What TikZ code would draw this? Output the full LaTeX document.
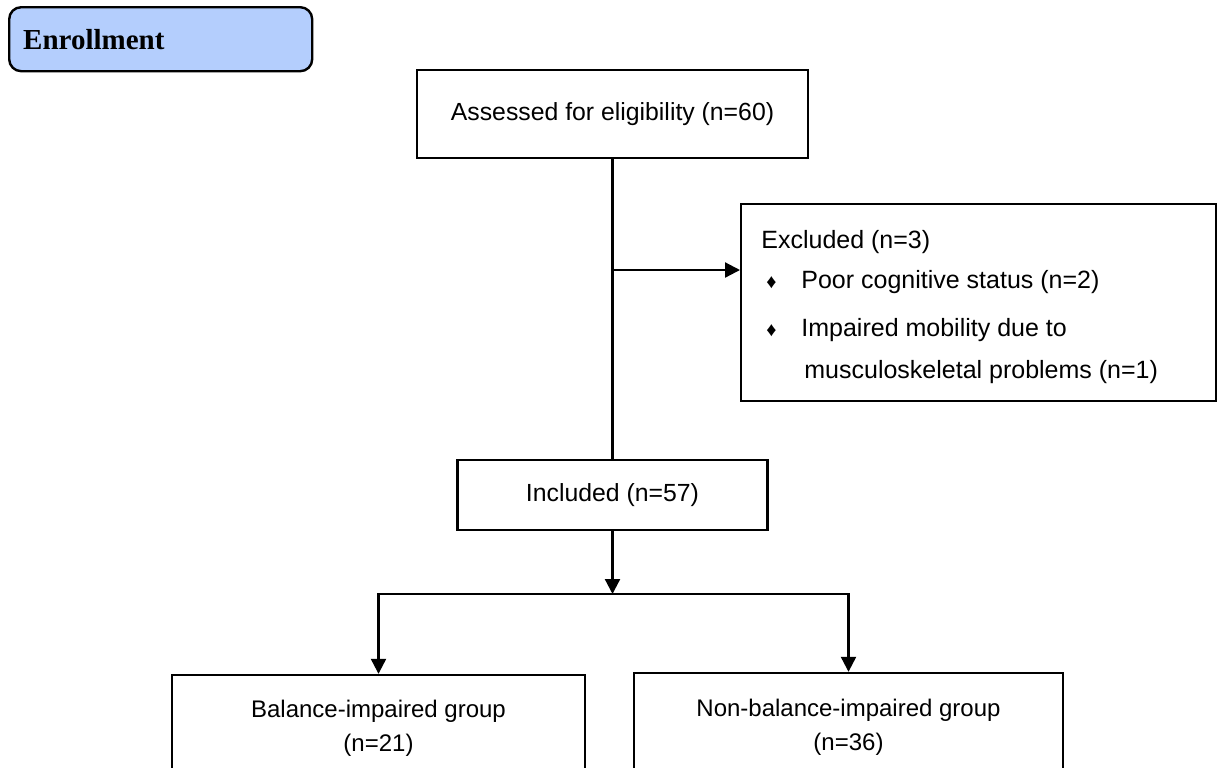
\documentclass[tikz,border=0pt]{standalone}
\usepackage{fontspec}
\setmainfont{Liberation Sans}
\newfontfamily\enrolfont{Liberation Serif}
\definecolor{EnrolBlue}{RGB}{180, 206, 253}
\usepackage{tikz}
\usetikzlibrary{arrows.meta, positioning, calc}

\tikzset{
  flowbox/.style={draw=black, line width=1.2pt, align=center, inner sep=0pt,
    font=\fontsize{12.4}{15}\selectfont},
  flowline/.style={line width=1.1pt},
  flowarrow/.style={line width=1.1pt, -{Triangle[length=7.5pt, width=7.5pt]}}
}

\begin{document}
\begin{tikzpicture}[x=0.5pt, y=-0.5pt]
  \useasboundingbox (0,0) rectangle (1218,767);
  \clip (0,0) rectangle (1218,767);

  % stage label
  \node[draw=black, line width=1.2pt, rounded corners=6pt, fill=EnrolBlue,
        anchor=north west, minimum height=32pt, text width=137.5pt, inner xsep=7pt,
        align=left, font=\enrolfont\bfseries\fontsize{14.5}{17}\selectfont]
        (enrol) at (8,6) {Enrollment};

  \node[flowbox, minimum width=195.5pt, minimum height=44pt] (assess) at (612.5,114)
    {Assessed for eligibility (n=60)};

  \node[flowbox, anchor=north west, minimum width=237.5pt, minimum height=98.5pt]
        (excl) at (740,203) {};
  \node[anchor=west, align=left, font=\fontsize{12.5}{20}\selectfont, inner sep=0pt]
        (excltext) at ($(excl.west)+(21,4)$)
    {Excluded (n=3)\\
     \makebox[20pt][l]{\hspace{2.5pt}\fontsize{10}{10}\selectfont ♦}Poor cognitive status (n=2)\\[4pt]
     \makebox[20pt][l]{\hspace{2.5pt}\fontsize{10}{10}\selectfont ♦}Impaired mobility due to\\[1pt]
     \hspace{21.5pt}musculoskeletal problems (n=1)};

  \node[flowbox, minimum width=155pt, minimum height=35pt] (incl) at (612.5,495)
    {Included (n=57)};

  \node[flowbox, minimum width=206.5pt, minimum height=53pt,
        font=\fontsize{12}{17}\selectfont] (bal) at (378.5,728)
    {Balance-impaired group\\(n=21)};
  \node[flowbox, minimum width=214.5pt, minimum height=54pt,
        font=\fontsize{12}{17}\selectfont] (nonbal) at (848.5,727)
    {Non-balance-impaired group\\(n=36)};

  % connectors
  \coordinate (branch) at (assess.south |- 0,270);
  \coordinate (split) at (incl.south |- 0,594);
  \draw[flowline] (assess.south) -- (incl.north);
  \draw[flowarrow] (branch) -- (branch -| excl.west);
  \draw[flowarrow] (incl.south) -- (split);
  \draw[flowline] (split) -| ($(bal.north)+(0,-9)$) coordinate (balend);
  \draw[flowarrow] (balend) -- (bal.north);
  \draw[flowline] (split) -| ($(nonbal.north)+(0,-9)$) coordinate (nonbalend);
  \draw[flowarrow] (nonbalend) -- (nonbal.north);
\end{tikzpicture}
\end{document}
